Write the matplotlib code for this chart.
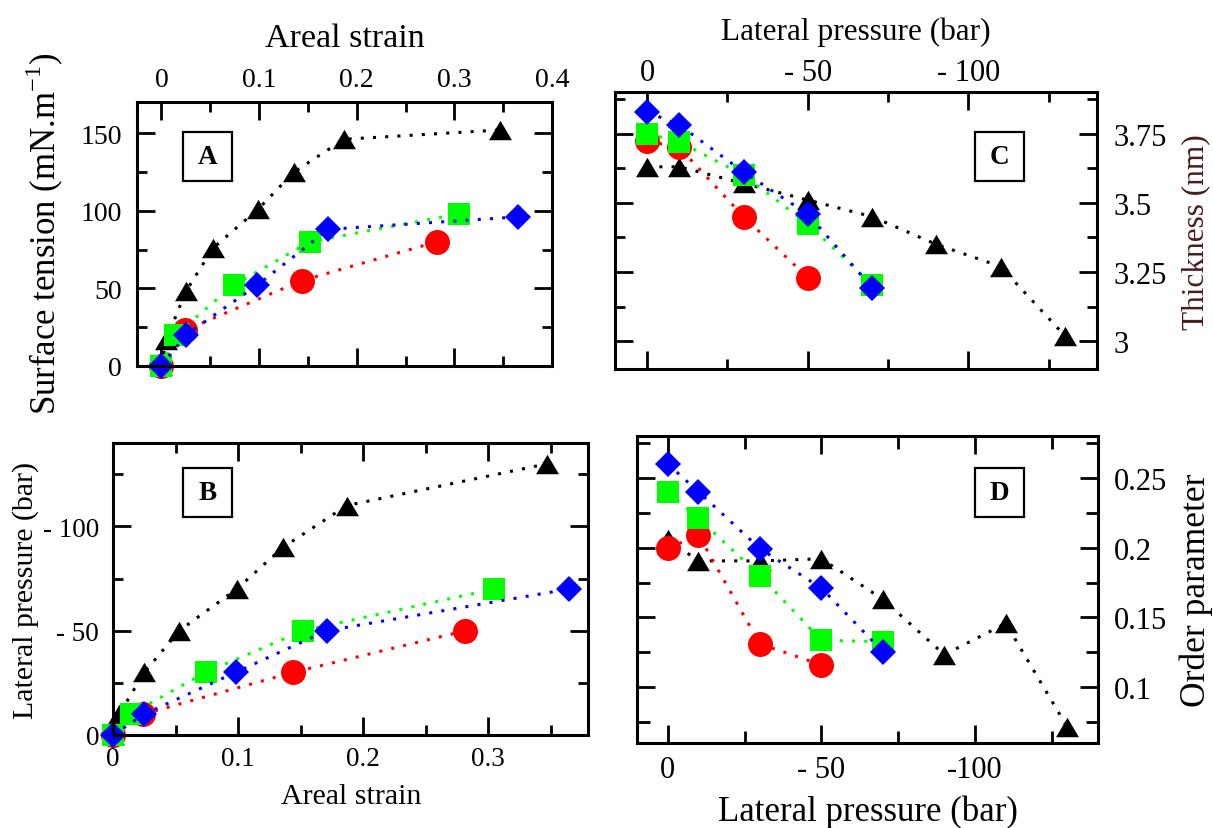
import matplotlib
matplotlib.use('Agg')
import matplotlib.pyplot as plt
from matplotlib.ticker import MultipleLocator, FuncFormatter
from matplotlib.patches import Rectangle
from matplotlib.path import Path

plt.rcParams['font.family'] = ['Liberation Serif', 'DejaVu Serif']
plt.rcParams['mathtext.fontset'] = 'custom'
plt.rcParams['mathtext.rm'] = 'Liberation Serif'

# ---------------- data ----------------
# series: black triangles, red circles, green squares, blue diamonds
black_strain = [0, 0.005, 0.025, 0.053, 0.099, 0.136, 0.187, 0.347]
red_strain = [0, 0.024, 0.144, 0.282]
green_strain = [0, 0.014, 0.074, 0.152, 0.305]
blue_strain = [0, 0.025, 0.098, 0.171, 0.365]

black_pressure = [0, -10, -30, -50, -70, -90, -110, -130]
red_pressure = [0, -10, -30, -50]
green_pressure = [0, -10, -30, -50, -70]
blue_pressure = [0, -10, -30, -50, -70]

black_tension = [0, 17, 48, 76, 101, 125, 146, 152]
red_tension = [0, 23, 55, 80]
green_tension = [0, 20, 52, 80, 98]
blue_tension = [0, 20, 52, 88, 96]

black_thickness = [3.63, 3.63, 3.57, 3.51, 3.45, 3.35, 3.27, 3.02]
red_thickness = [3.723, 3.70, 3.45, 3.23]
green_thickness = [3.75, 3.72, 3.60, 3.424, 3.204]
blue_thickness = [3.828, 3.781, 3.611, 3.459, 3.194]

black_order = [0.206, 0.1905, 0.1905, 0.192, 0.163, 0.1233, 0.1457, 0.0714]
red_order = [0.1995, 0.209, 0.131, 0.116]
green_order = [0.240, 0.221, 0.180, 0.1336, 0.1326]
blue_order = [0.260, 0.240, 0.1993, 0.171, 0.1255]

# ---------------- figure ----------------
W, H = 1213, 829
fig = plt.figure(figsize=(W / 100, H / 100), dpi=100)


def ax_px(l, t, r, b):
    return fig.add_axes([l / W, 1 - b / H, (r - l) / W, (b - t) / H])


tri = Path([(-1, -0.85), (1, -0.85), (0, 0.85), (-1, -0.85)],
           [Path.MOVETO, Path.LINETO, Path.LINETO, Path.CLOSEPOLY])

STY = {
    'black': dict(color='black', marker=tri, ms=16.5),
    'red': dict(color='#ff0000', marker='o', ms=18),
    'green': dict(color='#00ff00', marker='s', ms=15.5),
    'blue': dict(color='#0000ff', marker='D', ms=12.8),
}


def draw(ax, series):
    for key, x, y in series:
        s = STY[key]
        ax.plot(x, y, linestyle=(0, (1, 3)), lw=2.2, color=s['color'],
                marker=s['marker'], ms=s['ms'], mec=s['color'], mew=0,
                clip_on=False)


def style(ax, minor_len=7):
    ax.tick_params(which='both', direction='in', top=True, bottom=True,
                   left=True, right=True, width=2)
    ax.tick_params(which='major', length=13)
    ax.tick_params(which='minor', length=minor_len)
    for sp in ax.spines.values():
        sp.set_linewidth(2.2)


def panel_box(ax, x0, y0, x1, y1, label):
    ax.add_patch(Rectangle((x0, y0), x1 - x0, y1 - y0, transform=ax.transAxes,
                           fill=False, lw=1.6, ec='black', clip_on=False, zorder=5))
    ax.text((x0 + x1) / 2, (y0 + y1) / 2, label, transform=ax.transAxes,
            ha='center', va='center', fontsize=19.5, fontweight='bold', zorder=6)


def ftext(px, py, s, **kw):
    fig.text(px / W, 1 - py / H, s, ha='center', va='center', **kw)


def neg_fmt(space=True, space100=True):
    def f(v, pos):
        if abs(v) < 1e-9:
            return '0'
        a = abs(v)
        sp = ' ' if (space if a < 100 else space100) else ''
        return '-' + sp + ('%g' % a)
    return FuncFormatter(f)


gfmt = FuncFormatter(lambda v, p: '%g' % v)

# ---------------- Panel A ----------------
axA = ax_px(137, 103, 552, 367)
draw(axA, [('black', black_strain, black_tension),
           ('red', red_strain, red_tension),
           ('green', green_strain, green_tension),
           ('blue', blue_strain, blue_tension)])
axA.set_xlim(-0.025, 0.4)
axA.set_ylim(0, 170)
axA.xaxis.set_major_locator(MultipleLocator(0.1))
axA.xaxis.set_minor_locator(MultipleLocator(0.05))
axA.yaxis.set_major_locator(MultipleLocator(50))
axA.yaxis.set_minor_locator(MultipleLocator(25))
axA.xaxis.set_major_formatter(gfmt)
axA.yaxis.set_major_formatter(gfmt)
style(axA)
axA.tick_params(axis='x', labeltop=True, labelbottom=False, labelsize=20, pad=7.5)
axA.tick_params(axis='y', labelleft=True, labelsize=20, pad=11)
panel_box(axA, 0.1108, 0.7008, 0.2289, 0.8864, 'A')
ftext(345, 39, 'Areal strain', fontsize=24.5)
ftext(45, 234, r'Surface tension (mN.m$^{\mathregular{-1}}$)', fontsize=25, rotation=90)

# ---------------- Panel B ----------------
axB = ax_px(113, 444, 588, 736)
draw(axB, [('black', black_strain, black_pressure),
           ('red', red_strain, red_pressure),
           ('green', green_strain, green_pressure),
           ('blue', blue_strain, blue_pressure)])
axB.set_xlim(0, 0.38)
axB.set_ylim(0, -140)
axB.xaxis.set_major_locator(MultipleLocator(0.1))
axB.xaxis.set_minor_locator(MultipleLocator(0.05))
axB.yaxis.set_major_locator(MultipleLocator(50))
axB.yaxis.set_minor_locator(MultipleLocator(25))
axB.xaxis.set_major_formatter(gfmt)
axB.yaxis.set_major_formatter(neg_fmt())
style(axB)
axB.tick_params(axis='x', labelsize=19.5, pad=8)
axB.tick_params(axis='y', labelsize=19.5, pad=10)
panel_box(axB, 0.1474, 0.7466, 0.2505, 0.9144, 'B')
ftext(351, 797, 'Areal strain', fontsize=21.5)
ftext(26, 590, 'Lateral pressure (bar)', fontsize=21.5, rotation=90)

# ---------------- Panel C ----------------
axC = ax_px(615, 93, 1097, 370)
draw(axC, [('black', black_pressure, black_thickness),
           ('red', red_pressure, red_thickness),
           ('green', green_pressure, green_thickness),
           ('blue', blue_pressure, blue_thickness)])
axC.set_xlim(10, -140)
axC.set_ylim(2.9, 3.9)
axC.xaxis.set_major_locator(MultipleLocator(50))
axC.xaxis.set_minor_locator(MultipleLocator(25))
axC.yaxis.set_major_locator(MultipleLocator(0.25))
axC.yaxis.set_minor_locator(MultipleLocator(0.125))
axC.xaxis.set_major_formatter(neg_fmt())
axC.yaxis.set_major_formatter(gfmt)
style(axC)
axC.tick_params(axis='x', labeltop=True, labelbottom=False, labelsize=22, pad=3.5)
axC.tick_params(axis='y', labelright=True, labelleft=False, labelsize=22, pad=12)
panel_box(axC, 0.7469, 0.6787, 0.8485, 0.8556, 'C')
ftext(856, 32, 'Lateral pressure (bar)', fontsize=22.5)
ftext(1196, 232, 'Thickness (nm)', fontsize=22.5, rotation=90, color='#4a1c1c')

# ---------------- Panel D ----------------
axD = ax_px(637, 437, 1098, 744)
draw(axD, [('black', black_pressure, black_order),
           ('red', red_pressure, red_order),
           ('green', green_pressure, green_order),
           ('blue', blue_pressure, blue_order)])
axD.set_xlim(10, -140)
axD.set_ylim(0.06, 0.28)
axD.xaxis.set_major_locator(MultipleLocator(50))
axD.xaxis.set_minor_locator(MultipleLocator(25))
axD.yaxis.set_major_locator(MultipleLocator(0.05))
axD.yaxis.set_minor_locator(MultipleLocator(0.025))
axD.xaxis.set_major_formatter(neg_fmt(space=True, space100=False))
axD.yaxis.set_major_formatter(gfmt)
style(axD, minor_len=9)
axD.tick_params(axis='x', labelsize=22, pad=9)
axD.tick_params(axis='y', labelright=True, labelleft=False, labelsize=22, pad=11.5)
panel_box(axD, 0.7332, 0.7362, 0.8395, 0.8958, 'D')
ftext(868, 812, 'Lateral pressure (bar)', fontsize=25)
ftext(1196, 590, 'Order parameter', fontsize=25.5, rotation=90)

fig.savefig('out.png', dpi=100)
